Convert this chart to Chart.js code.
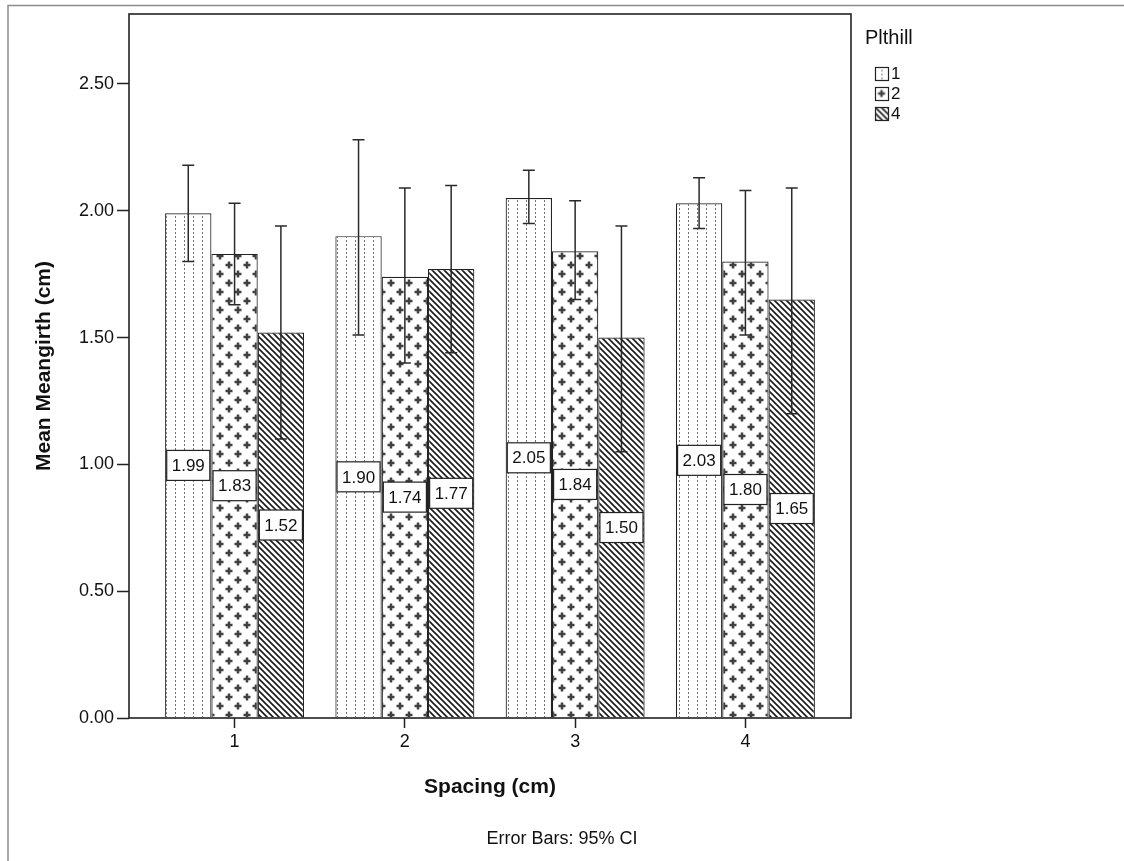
<!DOCTYPE html>
<html><head><meta charset="utf-8">
<script src="https://cdn.jsdelivr.net/npm/chart.js@4.4.0/dist/chart.umd.min.js"></script>
<style>html,body{margin:0;padding:0;background:#fff;}canvas{display:block}</style>
</head><body>
<canvas id="c" width="1124" height="861"></canvas>
<script>
// ---- data ----
const categories = [1, 2, 3, 4];
const seriesNames = ['1', '2', '4'];
const mean1 = [1.99, 1.90, 2.05, 2.03];
const mean2 = [1.83, 1.74, 1.84, 1.80];
const mean4 = [1.52, 1.77, 1.50, 1.65];
const low1  = [1.80, 1.51, 1.95, 1.93];
const high1 = [2.18, 2.28, 2.16, 2.13];
const low2  = [1.63, 1.40, 1.65, 1.51];
const high2 = [2.03, 2.09, 2.04, 2.08];
const low4  = [1.10, 1.44, 1.05, 1.20];
const high4 = [1.94, 2.10, 1.94, 2.09];
const yTicks = [0, 0.5, 1.0, 1.5, 2.0, 2.5];
const legendTitle = 'Plthill';
const xTitle = 'Spacing (cm)';
const yTitle = 'Mean Meangirth (cm)';
const footnote = 'Error Bars: 95% CI';

const FONT = "'Liberation Sans', Arial, sans-serif";
const INK = '#111';

// ---- patterns ----
function makePattern(kind) {
  const c = document.createElement('canvas');
  const g = c.getContext('2d');
  if (kind === 0) {
    c.width = 9; c.height = 4;
    g.fillStyle = '#fff'; g.fillRect(0, 0, 9, 4);
    g.fillStyle = '#707070'; g.fillRect(4, 0, 1, 2);
  } else if (kind === 1) {
    c.width = 18; c.height = 18;
    g.fillStyle = '#fff'; g.fillRect(0, 0, 18, 18);
    g.fillStyle = '#404040';
    [[4, 4], [13, 13]].forEach(([cx, cy]) => {
      g.fillRect(cx - 3.5, cy - 1.25, 7, 2.5);
      g.fillRect(cx - 1.25, cy - 3.5, 2.5, 7);
    });
  } else {
    c.width = 6; c.height = 6;
    g.fillStyle = '#fff'; g.fillRect(0, 0, 6, 6);
    g.strokeStyle = '#1a1a1a'; g.lineWidth = 1.6;
    g.beginPath();
    [-6, 0, 6].forEach(o => { g.moveTo(o - 1, -1); g.lineTo(o + 7, 7); });
    g.stroke();
  }
  return g.createPattern(c, 'repeat');
}
const patterns = [makePattern(0), makePattern(1), makePattern(2)];

const means = [mean1, mean2, mean4];
const lows = [low1, low2, low4];
const highs = [high1, high2, high4];

const datasets = seriesNames.map((name, i) => ({
  label: name,
  data: categories.map((c, j) => ({ x: c, y: means[i][j] })),
  lows: lows[i],
  highs: highs[i],
  backgroundColor: patterns[i],
  borderColor: '#222',
  borderWidth: 1.2,
  categoryPercentage: 0.816,
  barPercentage: 1.0
}));

const decorPlugin = {
  id: 'decor',
  beforeDraw(chart) {
    const g = chart.ctx;
    g.save();
    g.strokeStyle = '#8c8c8c'; g.lineWidth = 1.5;
    g.beginPath();
    g.moveTo(8, 861); g.lineTo(8, 5.5); g.lineTo(1124, 5.5);
    g.stroke();
    g.restore();
  },
  afterDatasetsDraw(chart) {
    const g = chart.ctx;
    const ys = chart.scales.y;
    const a = chart.chartArea;
    g.save();
    // error bars
    g.strokeStyle = '#2a2a2a'; g.lineWidth = 1.5;
    chart.data.datasets.forEach((ds, i) => {
      const meta = chart.getDatasetMeta(i);
      meta.data.forEach((bar, j) => {
        const x = bar.x;
        const yl = ys.getPixelForValue(ds.lows[j]);
        const yh = ys.getPixelForValue(ds.highs[j]);
        g.beginPath();
        g.moveTo(x, yl); g.lineTo(x, yh);
        g.moveTo(x - 6, yh); g.lineTo(x + 6, yh);
        g.moveTo(x - 6, yl); g.lineTo(x + 6, yl);
        g.stroke();
      });
    });
    // plot frame
    g.strokeStyle = '#222'; g.lineWidth = 1.6;
    g.strokeRect(a.left, a.top, a.right - a.left, a.bottom - a.top);
    // value labels
    g.font = '17px ' + FONT;
    g.textAlign = 'center'; g.textBaseline = 'middle';
    chart.data.datasets.forEach((ds, i) => {
      const meta = chart.getDatasetMeta(i);
      meta.data.forEach((bar, j) => {
        const txt = ds.data[j].y.toFixed(2);
        const w = g.measureText(txt).width + 10;
        const h = 30;
        const cy = (bar.y + bar.base) / 2;
        g.fillStyle = '#fff';
        g.fillRect(bar.x - w / 2, cy - h / 2, w, h);
        g.strokeStyle = '#222'; g.lineWidth = 1.2;
        g.strokeRect(bar.x - w / 2, cy - h / 2, w, h);
        g.fillStyle = INK;
        g.fillText(txt, bar.x, cy + 1);
      });
    });
    g.restore();
  },
  afterDraw(chart) {
    const g = chart.ctx;
    g.save();
    g.fillStyle = INK;
    g.textBaseline = 'middle'; g.textAlign = 'left';
    g.font = '20px ' + FONT;
    g.fillText(legendTitle, 865, 38);
    g.font = '17px ' + FONT;
    chart.data.datasets.forEach((ds, i) => {
      const top = 67 + i * 20;
      g.save();
      g.translate(877.5, top + 2.5);
      g.fillStyle = ds.backgroundColor;
      g.fillRect(-2.5, -2.5, 13, 13);
      g.restore();
      g.strokeStyle = '#222'; g.lineWidth = 1.2;
      g.strokeRect(875.5, top + 0.5, 13, 13);
      g.fillStyle = INK;
      g.fillText(ds.label, 891, top + 7.5);
    });
    // footnote
    g.textAlign = 'center';
    g.font = '18px ' + FONT;
    g.fillText(footnote, 562, 839);
    g.restore();
  }
};

new Chart(document.getElementById('c'), {
  type: 'bar',
  data: { datasets },
  options: {
    responsive: false,
    animation: false,
    devicePixelRatio: 1,
    layout: { padding: { left: 0, right: 273, top: 14, bottom: 0 } },
    plugins: {
      legend: { display: false },
      tooltip: { enabled: false }
    },
    scales: {
      x: {
        type: 'linear', min: 0.38, max: 4.62, offset: false,
        afterBuildTicks: s => { s.ticks = categories.map(v => ({ value: v })); },
        afterFit: s => { s.height = 143; },
        ticks: { color: INK, font: { family: FONT, size: 18 }, padding: 3, maxRotation: 0,
                 callback: v => String(v) },
        grid: { display: true, offset: false, drawOnChartArea: false, drawTicks: true, tickLength: 10,
                tickColor: '#222', tickWidth: 1.5 },
        border: { display: false },
        title: { display: true, text: xTitle, color: INK,
                 font: { family: FONT, size: 21, weight: 'bold' },
                 padding: { top: 61, bottom: 61 } }
      },
      y: {
        min: 0, max: 2.776,
        afterBuildTicks: s => { s.ticks = yTicks.map(v => ({ value: v })); },
        afterFit: s => { s.width = 129; },
        ticks: { color: INK, font: { family: FONT, size: 18 }, padding: 3,
                 callback: v => Number(v).toFixed(2) },
        grid: { display: true, offset: false, drawOnChartArea: false, drawTicks: true, tickLength: 12,
                tickColor: '#222', tickWidth: 1.5 },
        border: { display: false },
        title: { display: true, text: yTitle, color: INK,
                 font: { family: FONT, size: 21, weight: 'bold' },
                 padding: { top: 32, bottom: 32 } }
      }
    }
  },
  plugins: [decorPlugin]
});
</script>
</body></html>
